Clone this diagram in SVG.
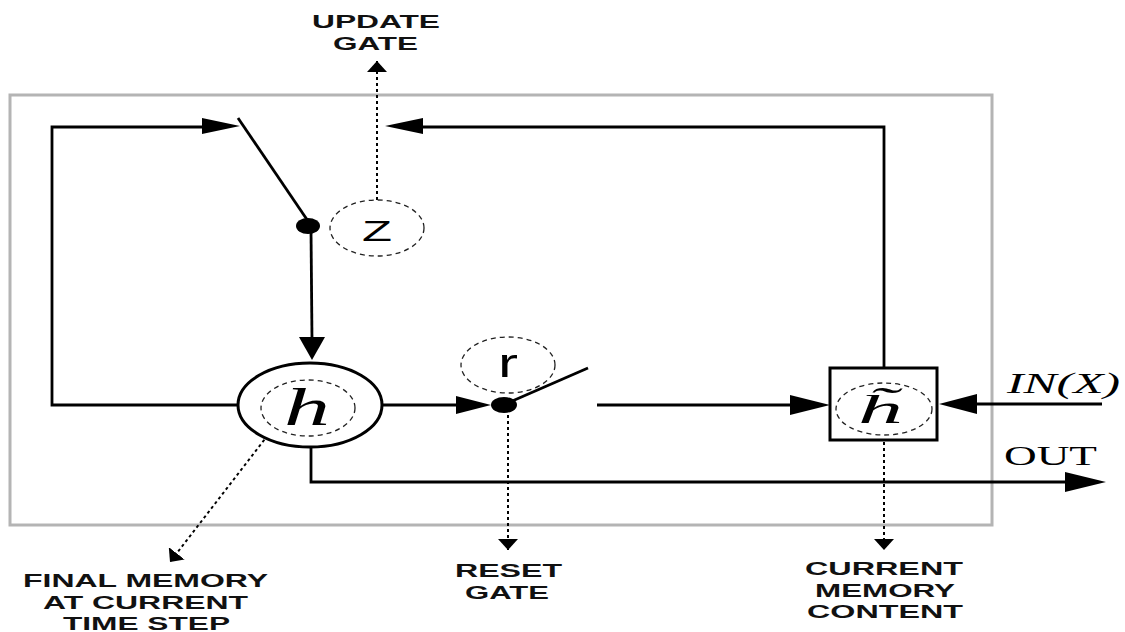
<svg xmlns="http://www.w3.org/2000/svg" width="1125" height="632" viewBox="0 0 1125 632">
<style>
.frame{fill:none;stroke:#b4b4b4;stroke-width:3}
.wire{fill:none;stroke:#000;stroke-width:2.8}
.head{fill:#000;stroke:none}
.dot{fill:#000}
.gate{fill:none;stroke:#222;stroke-width:1.3;stroke-dasharray:5 4}
.dotted{fill:none;stroke:#000;stroke-width:2;stroke-dasharray:3 3}
.lbl{font-family:"Liberation Sans",Arial,sans-serif;font-weight:bold;font-size:18px;fill:#111}
.sym{font-family:"Liberation Sans",Arial,sans-serif;font-size:30px;fill:#000}
.math{font-family:"Liberation Serif","Times New Roman",serif;font-style:italic;fill:#000}
.rom{font-family:"Liberation Serif","Times New Roman",serif;fill:#000}
</style>
<defs>
<marker id="dh" markerUnits="userSpaceOnUse" markerWidth="12" markerHeight="20" refX="11" refY="10" orient="auto">
<path d="M0,0 L11,10 L0,20 Z" fill="#000"/>
</marker>
</defs>
<rect width="1125" height="632" fill="#fff"/>
<rect class="frame" x="10" y="95" width="982" height="430"/>

<g id="connectors">
<!-- left feedback loop -->
<polyline class="wire" points="238,405 52,405 52,127 205,127"/>
<polygon class="head" points="240,126 202,118 202,134"/>
<!-- update switch -->
<line class="wire" x1="238" y1="118" x2="310" y2="224"/>
<!-- down to h -->
<line class="wire" x1="311" y1="230" x2="312" y2="340"/>
<polygon class="head" points="312,360 299,337 325,337"/>
<!-- top return from h tilde -->
<polyline class="wire" points="884,368 884,127 420,127"/>
<polygon class="head" points="385,126 423,118 423,134"/>
<!-- h to reset -->
<line class="wire" x1="382" y1="405" x2="460" y2="405"/>
<polygon class="head" points="491,405 456,396 456,414"/>
<!-- reset switch -->
<line class="wire" x1="510" y1="402" x2="588" y2="368"/>
<!-- to h tilde -->
<line class="wire" x1="597" y1="405" x2="795" y2="405"/>
<polygon class="head" points="830,405 790,395 790,415"/>
<!-- input -->
<line class="wire" x1="1102" y1="404" x2="975" y2="404"/>
<polygon class="head" points="939,404 977,394 977,414"/>
<!-- output -->
<polyline class="wire" points="311,447 311,482 1070,482"/>
<polygon class="head" points="1106,482 1065,472 1065,492"/>
<!-- dotted annotation leaders -->
<line class="dotted" x1="377" y1="200" x2="377" y2="61" marker-end="url(#dh)"/>
<line class="dotted" x1="508" y1="415" x2="508" y2="550" marker-end="url(#dh)"/>
<line class="dotted" x1="884" y1="436" x2="884" y2="550" marker-end="url(#dh)"/>
<line class="dotted" x1="268" y1="435" x2="170" y2="562" marker-end="url(#dh)"/>
</g>

<g id="update-switch-dot">
<ellipse class="dot" cx="308" cy="226" rx="12" ry="8"/>
</g>
<g id="reset-switch-dot">
<ellipse class="dot" cx="504" cy="405" rx="13" ry="8"/>
</g>

<g id="z-gate">
<ellipse class="gate" cx="377" cy="228" rx="47" ry="28"/>
<text class="sym" x="362" y="241" textLength="30" lengthAdjust="spacingAndGlyphs">Z</text>
</g>

<g id="r-gate">
<ellipse class="gate" cx="508" cy="365" rx="47" ry="28"/>
<text class="sym" x="498" y="377" font-size="40" style="font-size:40px" textLength="20" lengthAdjust="spacingAndGlyphs">r</text>
</g>

<g id="h-node">
<ellipse cx="310" cy="405" rx="72" ry="42" fill="#fff" stroke="#000" stroke-width="3"/>
<ellipse class="gate" cx="308" cy="408" rx="47" ry="28"/>
<text class="math" x="284" y="425" style="font-size:52px" textLength="46" lengthAdjust="spacingAndGlyphs">h</text>
</g>

<g id="htilde-node">
<rect x="830" y="368" width="107" height="72" fill="#fff" stroke="#000" stroke-width="3"/>
<ellipse class="gate" cx="884" cy="409" rx="48" ry="26"/>
<text class="math" x="858" y="423" style="font-size:40px" textLength="45" lengthAdjust="spacingAndGlyphs">h̃</text>
</g>

<g id="labels">
<text class="lbl" x="312" y="28" textLength="128" lengthAdjust="spacingAndGlyphs">UPDATE</text>
<text class="lbl" x="333" y="50" textLength="85" lengthAdjust="spacingAndGlyphs">GATE</text>
<text class="lbl" x="455" y="577" textLength="107" lengthAdjust="spacingAndGlyphs">RESET</text>
<text class="lbl" x="465" y="599" textLength="84" lengthAdjust="spacingAndGlyphs">GATE</text>
<text class="lbl" x="805" y="575" textLength="158" lengthAdjust="spacingAndGlyphs">CURRENT</text>
<text class="lbl" x="815" y="597" textLength="140" lengthAdjust="spacingAndGlyphs">MEMORY</text>
<text class="lbl" x="807" y="618" textLength="156" lengthAdjust="spacingAndGlyphs">CONTENT</text>
<text class="lbl" x="23" y="587" textLength="245" lengthAdjust="spacingAndGlyphs">FINAL MEMORY</text>
<text class="lbl" x="43" y="609" textLength="205" lengthAdjust="spacingAndGlyphs">AT CURRENT</text>
<text class="lbl" x="63" y="630" textLength="167" lengthAdjust="spacingAndGlyphs">TIME STEP</text>
<text class="math" x="1007" y="393" style="font-size:30px" textLength="113" lengthAdjust="spacingAndGlyphs">IN(X)</text>
<text class="rom" x="1004" y="465" style="font-size:28px" textLength="93" lengthAdjust="spacingAndGlyphs">OUT</text>
</g>
</svg>
